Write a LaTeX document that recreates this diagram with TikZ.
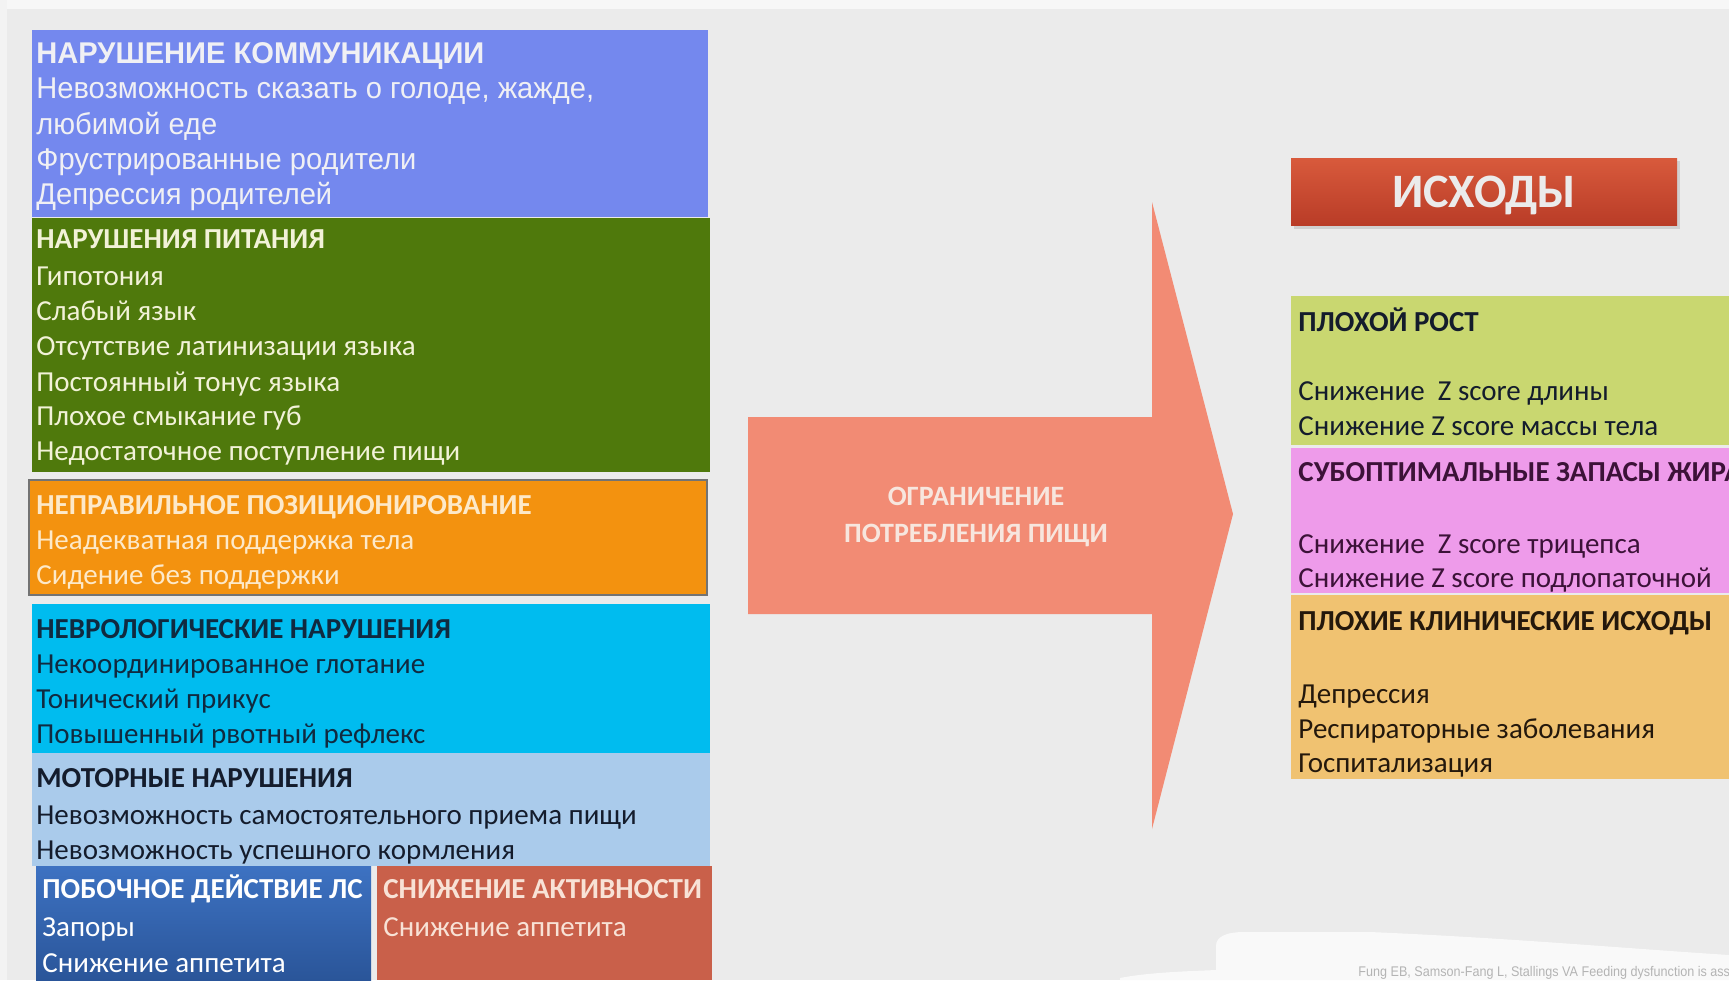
\documentclass[tikz,border=0pt]{standalone}
\usepackage{fontspec}
\setmainfont{Carlito}
\newfontfamily\arialf[FakeStretch=0.97]{Liberation Sans}
\newfontfamily\citef[FakeStretch=0.9]{Liberation Sans}
\definecolor{bg}{HTML}{EBEBEB}
\definecolor{cBlue}{HTML}{7488EE}
\definecolor{cGreen}{HTML}{4F790C}
\definecolor{cOrange}{HTML}{F3920F}
\definecolor{cCyan}{HTML}{00BCEF}
\definecolor{cLblue}{HTML}{AACBEB}
\definecolor{cDblueT}{HTML}{3D72C2}
\definecolor{cDblueB}{HTML}{2A5599}
\definecolor{cRed}{HTML}{C9604A}
\definecolor{cArrow}{HTML}{F28B74}
\definecolor{cHeadT}{HTML}{D85A3C}
\definecolor{cHeadB}{HTML}{B93C27}
\definecolor{cYG}{HTML}{C9D770}
\definecolor{cPink}{HTML}{EE9BEA}
\definecolor{cTan}{HTML}{F0C271}
\definecolor{tBlue}{HTML}{F0F0F4}
\definecolor{tGreen}{HTML}{F2F2D8}
\definecolor{tOrange}{HTML}{FDE9C9}
\definecolor{tCyan}{HTML}{102A40}
\definecolor{tLblue}{HTML}{141C2C}
\definecolor{tRed}{HTML}{F8E2D6}
\definecolor{tPink}{HTML}{3C1238}
\definecolor{tTan}{HTML}{24180C}
\definecolor{tArrow}{HTML}{F7E6DE}
\definecolor{tCite}{HTML}{B4B4B4}
\tikzset{
  boxr/.style={anchor=north west, inner sep=0, outer sep=0, draw=none},
  ln/.style={anchor=base west, inner sep=0, font=\fontsize{14.5}{17}\selectfont},
  lnb/.style={ln, font=\fontsize{14.5}{17}\selectfont\bfseries},
  aln/.style={anchor=base west, inner sep=0, font=\fontsize{15}{17}\arialf},
  alnb/.style={aln, font=\fontsize{15}{17}\arialf\bfseries},
}
\begin{document}
\begin{tikzpicture}[x=0.5pt,y=-0.5pt]
\useasboundingbox (0,0) rectangle (1729,980);
\clip (0,0) rectangle (1729,980);
\fill[bg] (0,0) rectangle (1729,980);
\fill[white!60!bg] (0,0) rectangle (1729,9);
\fill[white!40!bg] (0,0) rectangle (7,980);
% left column boxes
\node[boxr, fill=cBlue, minimum width=676*0.5pt, minimum height=187*0.5pt] (bcomm) at (32,30) {};
\node[boxr, fill=cGreen, minimum width=678*0.5pt, minimum height=254*0.5pt] (bfeed) at (32,218) {};
\node[boxr, fill=cOrange, draw=black!55, line width=1pt, minimum width=678*0.5pt, minimum height=115*0.5pt] (bpos) at (29,480) {};
\node[boxr, fill=cCyan, minimum width=678*0.5pt, minimum height=149*0.5pt] (bneuro) at (32,604) {};
\node[boxr, fill=cLblue, minimum width=678*0.5pt, minimum height=113*0.5pt] (bmotor) at (32,753) {};
\node[boxr, top color=cDblueT, bottom color=cDblueB, minimum width=335*0.5pt, minimum height=114*0.5pt] (bdrug) at (36,866) {};
\node[boxr, fill=cRed, minimum width=335*0.5pt, minimum height=114*0.5pt] (bact) at (377,866) {};
% blue texts
\node[alnb, text=tBlue] (c1) at (36,63) {НАРУШЕНИЕ КОММУНИКАЦИИ};
\node[aln, text=tBlue] (c2) at (36,98) {Невозможность сказать о голоде, жажде,};
\node[aln, text=tBlue] (c3) at (36,134) {любимой еде};
\node[aln, text=tBlue] (c4) at (36,169) {Фрустрированные родители};
\node[aln, text=tBlue] (c5) at (36,204) {Депрессия родителей};
% green texts
\node[lnb, text=tGreen] (f1) at (36,248) {НАРУШЕНИЯ ПИТАНИЯ};
\node[ln, text=tGreen] (f2) at (36,285) {Гипотония};
\node[ln, text=tGreen] (f3) at (36,320) {Слабый язык};
\node[ln, text=tGreen] (f4) at (36,355) {Отсутствие латинизации языка};
\node[ln, text=tGreen] (f5) at (36,391) {Постоянный тонус языка};
\node[ln, text=tGreen] (f6) at (36,425) {Плохое смыкание губ};
\node[ln, text=tGreen] (f7) at (36,460) {Недостаточное поступление пищи};
% orange texts
\node[lnb, text=tOrange] (p1) at (36,514) {НЕПРАВИЛЬНОЕ ПОЗИЦИОНИРОВАНИЕ};
\node[ln, text=tOrange] (p2) at (36,549) {Неадекватная поддержка тела};
\node[ln, text=tOrange] (p3) at (36,584) {Сидение без поддержки};
% cyan texts
\node[lnb, text=tCyan] (n1) at (36,638) {НЕВРОЛОГИЧЕСКИЕ НАРУШЕНИЯ};
\node[ln, text=tCyan] (n2) at (36,673) {Некоординированное глотание};
\node[ln, text=tCyan] (n3) at (36,708) {Тонический прикус};
\node[ln, text=tCyan] (n4) at (36,743) {Повышенный рвотный рефлекс};
% motor texts
\node[lnb, text=tLblue] (m1) at (36,787) {МОТОРНЫЕ НАРУШЕНИЯ};
\node[ln, text=tLblue] (m2) at (36,824) {Невозможность самостоятельного приема пищи};
\node[ln, text=tLblue] (m3) at (36,859) {Невозможность успешного кормления};
% drug texts
\node[lnb, text=white] (d1) at (42,898) {ПОБОЧНОЕ ДЕЙСТВИЕ ЛС};
\node[ln, text=white] (d2) at (42,936) {Запоры};
\node[ln, text=white] (d3) at (42,972) {Снижение аппетита};
% activity texts
\node[lnb, text=tRed] (a1) at (383,898) {СНИЖЕНИЕ АКТИВНОСТИ};
\node[ln, text=tRed] (a2) at (383,936) {Снижение аппетита};
% big arrow
\fill[cArrow] (748,417) -- (1152,417) -- (1152,202) -- (1233,514) -- (1152,829) -- (1152,614) -- (748,614) -- cycle;
\node[anchor=base, inner sep=0, text=tArrow, font=\fontsize{14}{17}\selectfont\bfseries] (ar1) at (976,505) {ОГРАНИЧЕНИЕ};
\node[anchor=base, inner sep=0, text=tArrow, font=\fontsize{14}{17}\selectfont\bfseries] (ar2) at (976,542) {ПОТРЕБЛЕНИЯ ПИЩИ};
% outcomes header
\fill[black!25, opacity=0.6] (1294,161) rectangle (1680,229);
\node[boxr, top color=cHeadT, bottom color=cHeadB, minimum width=386*0.5pt, minimum height=67*0.5pt] (hdr) at (1291,158) {};
\node[anchor=base, inner sep=0, text=white!92!black, font=\fontsize{24}{28}\selectfont\bfseries] (hdrt) at (1484,207) {ИСХОДЫ};
% outcome boxes
\node[boxr, fill=cYG, minimum width=450*0.5pt, minimum height=149*0.5pt] (ogrow) at (1291,296) {};
\node[boxr, fill=cPink, minimum width=450*0.5pt, minimum height=145*0.5pt] (ofat) at (1291,448) {};
\node[boxr, fill=cTan, minimum width=450*0.5pt, minimum height=184*0.5pt] (oclin) at (1291,595) {};
\node[lnb, text=tLblue] (g1) at (1298,331) {ПЛОХОЙ РОСТ};
\node[ln, text=tLblue] (g2) at (1298,400) {Снижение~ Z score длины};
\node[ln, text=tLblue] (g3) at (1298,435) {Снижение Z score массы тела};
\node[lnb, text=tPink] (s1) at (1298,481) {СУБОПТИМАЛЬНЫЕ ЗАПАСЫ ЖИРА};
\node[ln, text=tPink] (s2) at (1298,553) {Снижение~ Z score трицепса};
\node[ln, text=tPink] (s3) at (1298,587) {Снижение Z score подлопаточной};
\node[lnb, text=tTan] (k1) at (1298,630) {ПЛОХИЕ КЛИНИЧЕСКИЕ ИСХОДЫ};
\node[ln, text=tTan] (k2) at (1298,703) {Депрессия};
\node[ln, text=tTan] (k3) at (1298,738) {Респираторные заболевания};
\node[ln, text=tTan] (k4) at (1298,772) {Госпитализация};
% citation band
\fill[white!70!bg] (1120,980) -- (1120,978) .. controls (1150,972) and (1195,971) .. (1216,970) -- (1216,946) .. controls (1216,937) and (1225,932) .. (1245,932) -- (1370,932) .. controls (1510,938) and (1620,948) .. (1729,955) -- (1729,980) -- cycle;
\node[anchor=base west, inner sep=0, text=tCite, font=\fontsize{7}{8}\citef] (cite) at (1358,976) {Fung EB, Samson-Fang L, Stallings VA Feeding dysfunction is ass};
\end{tikzpicture}
\end{document}
